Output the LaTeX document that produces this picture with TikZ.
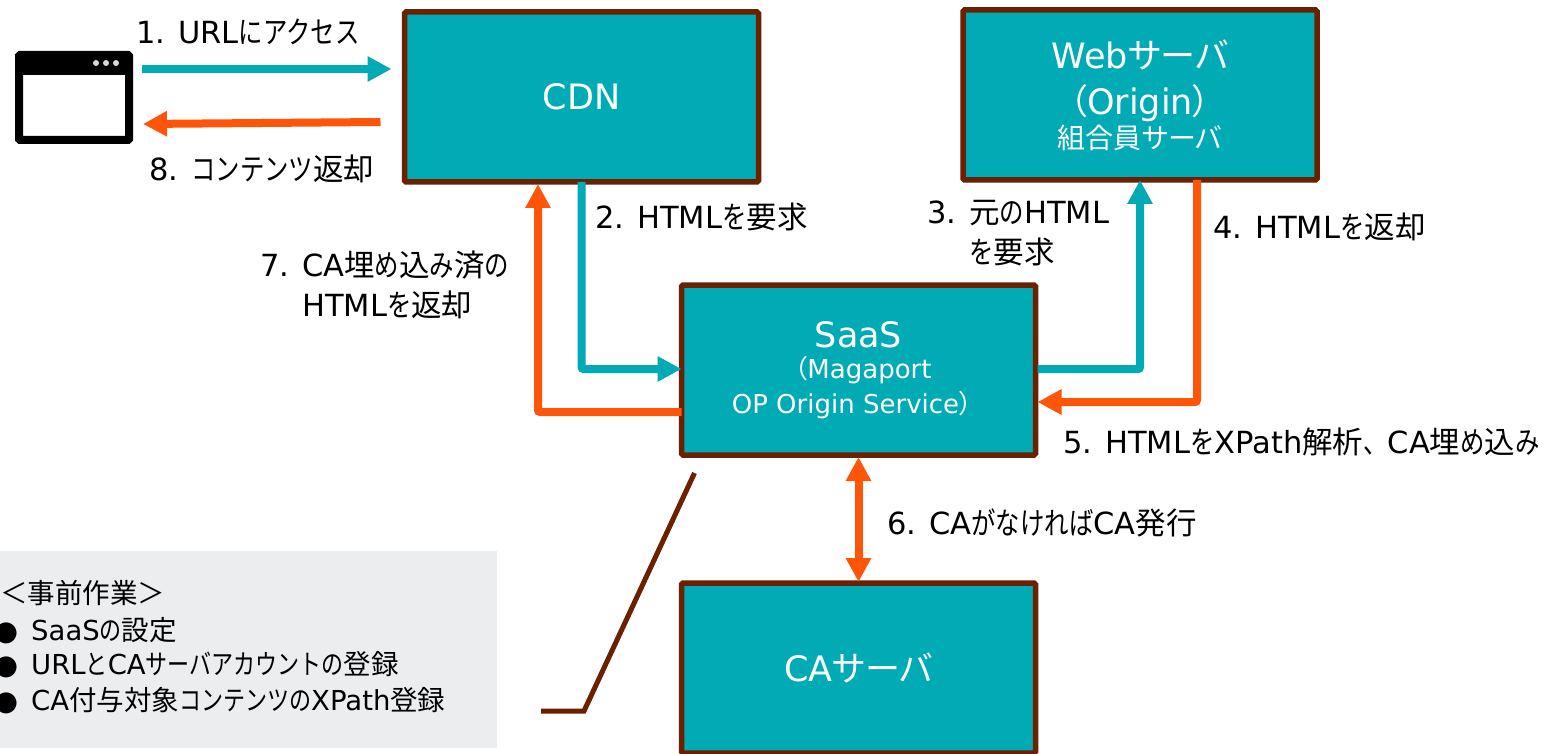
\documentclass[tikz,border=0pt]{standalone}
\usepackage{fontspec}
\usetikzlibrary{arrows.meta,calc}
\setmainfont{DejaVu Sans}
\newfontfamily\jpfont[RawFeature=+palt]{Noto Sans CJK JP}
\newfontfamily\jkanji{Noto Sans CJK JP}
\newfontfamily\jkana[FakeStretch=0.8]{Noto Sans CJK JP}
\newcommand{\J}[1]{{\jpfont #1}}
\newcommand{\Kj}[1]{{\jkanji #1}}
\newcommand{\Ka}[1]{{\jkana #1}}
\definecolor{teal}{HTML}{00ABB5}
\definecolor{orng}{HTML}{FF5508}
\definecolor{brwn}{HTML}{6B2000}
\definecolor{panel}{HTML}{ECEDEF}
\tikzset{
  boxn/.style={draw=brwn,fill=teal,line width=5.5pt,rounded corners=1.5pt,inner sep=0pt,outer sep=0pt,
    minimum width=354pt,minimum height=170pt,text=white,align=center,font=\fontsize{35}{42}\selectfont},
  lbl/.style={anchor=base west,inner sep=0pt,align=left,text=black,font=\fontsize{30.5}{40}\selectfont},
  plbl/.style={anchor=base west,inner sep=0pt,text=black,font=\fontsize{27.5}{32}\selectfont},
  arrT/.style={draw=teal,line width=8pt,rounded corners=2pt,-{Triangle[length=24pt,width=24pt]}},
  arrO/.style={draw=orng,line width=8pt,rounded corners=2pt,-{Triangle[length=24pt,width=24pt]}},
  arrOO/.style={draw=orng,line width=8pt,{Triangle[length=24pt,width=24pt]}-{Triangle[length=24pt,width=24pt]}}
}
\begin{document}
\begin{tikzpicture}[x=1pt,y=-1pt]
\useasboundingbox (0,0) rectangle (1568,754);
\fill[white] (0,0) rectangle (1568,754);
% panel
\node[fill=panel,inner sep=0pt,outer sep=0pt,minimum width=497pt,minimum height=197pt,anchor=north west] (prep) at (0,551) {};
\node[plbl] (p0) at (0,603) {\Kj{＜事前作業＞}};
\node[plbl] (pb1) at (-6,640) {●};
\node[plbl] (p1) at (31,640) {SaaS\Ka{の}\Kj{設定}};
\node[plbl] (pb2) at (-6,674) {●};
\node[plbl] (p2) at (31,674) {URL\Ka{と}CA\Ka{サーバアカウントの}\Kj{登録}};
\node[plbl] (pb3) at (-6,710) {●};
\node[plbl] (p3) at (31,710) {CA\Kj{付与対象}\Ka{コンテンツの}XPath\Kj{登録}};
% browser icon
\node[draw=black,fill=white,line width=8pt,rounded corners=1pt,inner sep=0pt,outer sep=0pt,minimum width=110pt,minimum height=85pt,anchor=center] (browser) at (74,97.5) {};
\fill[black] (browser.north west) rectangle ([yshift=-20pt]browser.north east);
\fill[white!85!black] (96,63) circle (3pt) (106,63) circle (3pt) (116,63) circle (3pt);
% boxes
\node[boxn] (cdn) at (581.5,97) {CDN};
\node[boxn] (web) at (1140,95) {Web\J{サーバ}\\[4pt]\J{（}Origin\J{）}\\[-8pt]{\fontsize{28}{34}\selectfont\J{組合員サーバ}}};
\node[boxn] (saas) at (858.5,370) {\raisebox{-8pt}{SaaS}\\[-3pt]{\fontsize{26}{33}\selectfont\hspace*{9pt}\J{（}Magaport}\\[-7pt]{\fontsize{26}{33}\selectfont\hspace*{-13pt}OP Origin Service\J{）}}};
\node[boxn] (ca) at (858.5,668) {CA\J{サーバ}};
% arrows
\draw[arrT] ([xshift=13pt,yshift=28.5pt]browser.east) -- ([xshift=-13pt,yshift=28pt]cdn.west);
\draw[arrO] ([xshift=-24pt,yshift=-25pt]cdn.west) -- ([xshift=14pt,yshift=-26.5pt]browser.east);
\draw[arrT] (cdn.south) -- (581.5,369) -- ([yshift=1pt]saas.west);
\draw[arrO] ([yshift=-42pt]saas.west) -- (538,412) -- ([xshift=-43.5pt,yshift=-2pt]cdn.south);
\draw[arrT] ([yshift=1pt]saas.east) ++(2,0) -- (1140,369) -- (web.south);
\draw[arrO] ([xshift=57pt]web.south) -- (1197,402) -- ([xshift=2pt,yshift=-32pt]saas.east);
\draw[arrOO] ([yshift=-2pt]saas.south) -- ([yshift=1pt]ca.north);
\draw[draw=brwn,line width=5pt] ([xshift=13pt,yshift=-18pt]saas.south west) -- (584,711) -- ([xshift=44pt,yshift=-61.5pt]prep.east);
% labels
\node[lbl] (l1) at (136,44) {1. URL\Ka{にアクセス}};
\node[lbl] (l8) at (149,181) {8. \Ka{コンテンツ}\Kj{返却}};
\node[lbl] (l2) at (595,229) {2. HTML\Ka{を}\Kj{要求}};
\node[lbl] (l3) at (927,263) {3. \Kj{元}\Ka{の}HTML\\\hspace*{42pt}\Ka{を}\Kj{要求}};
\node[lbl] (l4) at (1213,238) {4. HTML\Ka{を}\Kj{返却}};
\node[lbl] (l7) at (260,316) {7. CA\Kj{埋}\Ka{め}\Kj{込}\Ka{み}\Kj{済}\Ka{の}\\\hspace*{42pt}HTML\Ka{を}\Kj{返却}};
\node[lbl] (l5) at (1063,453) {5. HTML\Ka{を}XPath\Kj{解析}\Ka{、}CA\Kj{埋}\Ka{め}\Kj{込}\Ka{み}};
\node[lbl] (l6) at (887,534) {6. CA\Ka{がなければ}CA\Kj{発行}};
\end{tikzpicture}
\end{document}
